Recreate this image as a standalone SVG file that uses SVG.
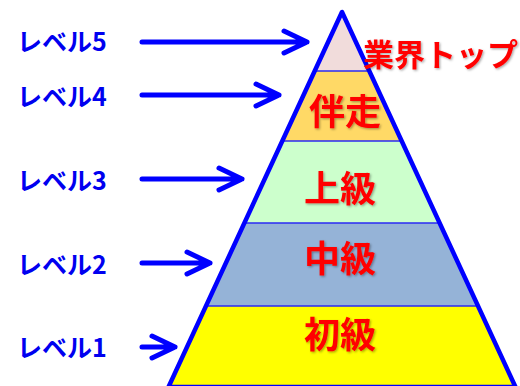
<svg xmlns="http://www.w3.org/2000/svg" width="520" height="386" viewBox="0 0 520 386">
<style>
.lvl{font-family:"Noto Sans CJK JP","Noto Sans",sans-serif;font-weight:bold;font-size:25px;fill:#0000f0}
.band{font-family:"Noto Sans CJK JP","Noto Sans",sans-serif;font-weight:bold;font-size:36px;fill:#ff0000;text-anchor:middle;filter:url(#sh)}
.div{stroke:#2a2af5;stroke-width:1.6}
.arr{stroke:#0000ff;stroke-width:5;fill:none;stroke-linecap:round;stroke-linejoin:round}
</style>
<defs>
<filter id="sh" x="-10%" y="-10%" width="130%" height="130%">
<feDropShadow dx="1.2" dy="1.2" stdDeviation="0.8" flood-color="#000" flood-opacity="0.35"/>
</filter>
<clipPath id="tri"><polygon points="342,12 168.5,387 515.5,387"/></clipPath>
</defs>
<rect width="520" height="386" fill="#fff"/>
<g id="pyramid">
<g clip-path="url(#tri)">
<rect id="band5" x="150" y="0" width="380" height="71" fill="#f1dcdb"/>
<rect id="band4" x="150" y="71" width="380" height="70" fill="#ffd966"/>
<rect id="band3" x="150" y="141" width="380" height="82" fill="#ccffcc"/>
<rect id="band2" x="150" y="223" width="380" height="83" fill="#95b3d7"/>
<rect id="band1" x="150" y="306" width="380" height="82" fill="#ffff00"/>
<line class="div" x1="150" y1="71" x2="530" y2="71"/>
<line class="div" x1="150" y1="141" x2="530" y2="141"/>
<line class="div" x1="150" y1="223" x2="530" y2="223"/>
<line class="div" x1="150" y1="306" x2="530" y2="306"/>
</g>
<polygon points="342,12 168.5,387 515.5,387" fill="none" stroke="#0000ff" stroke-width="4.5" stroke-linejoin="round"/>
</g>
<g id="node-top"><text class="band" x="363" y="66" style="text-anchor:start;font-size:31px">業界トップ</text></g>
<g id="node-banso"><text class="band" x="345" y="125">伴走</text></g>
<g id="node-jokyu"><text class="band" x="340" y="202">上級</text></g>
<g id="node-chukyu"><text class="band" x="340" y="272">中級</text></g>
<g id="node-shokyu"><text class="band" x="340" y="348">初級</text></g>
<g id="level5"><text class="lvl" x="17" y="51">レベル5</text></g>
<g id="level4"><text class="lvl" x="17" y="106">レベル4</text></g>
<g id="level3"><text class="lvl" x="17" y="190">レベル3</text></g>
<g id="level2"><text class="lvl" x="17" y="274">レベル2</text></g>
<g id="level1"><text class="lvl" x="17" y="357">レベル1</text></g>
<g id="connectors">
<path class="arr" d="M142,42 H307 M284,31 L307,42 L284,53"/>
<path class="arr" d="M142,95 H279 M256,84 L279,95 L256,106"/>
<path class="arr" d="M142,179 H242 M219,168 L242,179 L219,190"/>
<path class="arr" d="M142,263 H210 M187,252 L210,263 L187,274"/>
<path class="arr" d="M142,347 H175 M152,336 L175,347 L152,358"/>
</g>
</svg>
